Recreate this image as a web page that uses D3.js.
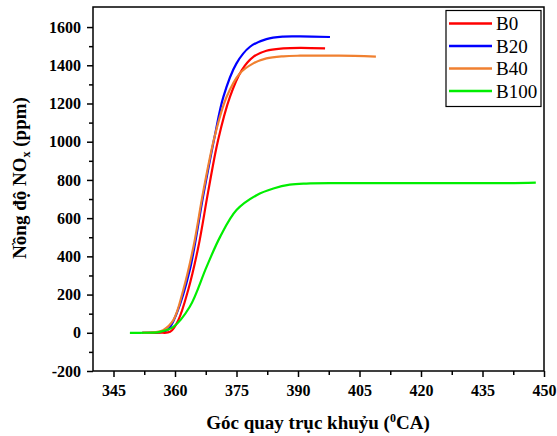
<!DOCTYPE html>
<html><head><meta charset="utf-8">
<script src="https://cdn.jsdelivr.net/npm/d3@7"></script>
<style>body{margin:0;background:#fff}svg{display:block}</style>
</head><body>
<script>
const xTicks = [345, 360, 375, 390, 405, 420, 435, 450];
const yTicks = [-200, 0, 200, 400, 600, 800, 1000, 1200, 1400, 1600];
const seriesNames = ["B0", "B20", "B40", "B100"];
const seriesColors = ["#ff0000", "#0000ff", "#f08030", "#00ee00"];

const b0X = [352, 356, 358.8, 360.8, 363.2, 365.7, 368.1, 370.5, 373.4, 376.3, 379.1, 382.3, 386.4, 390.5, 396.6];
const b0Y = [0, 1, 5, 66, 223, 450, 740, 1008, 1235, 1375, 1444, 1476, 1488, 1491, 1488];

const b20X = [352, 356, 358.2, 360.4, 363.6, 366.9, 369.7, 371.8, 375.0, 378.3, 382.3, 386.4, 390.5, 397.8];
const b20Y = [0, 2, 15, 101, 328, 720, 1030, 1235, 1410, 1497, 1537, 1550, 1551, 1548];

const b40X = [352, 355, 357.1, 359.6, 362.0, 364.5, 366.9, 369.7, 372.6, 375.8, 379.1, 382.3, 386.4, 390.5, 400, 409];
const b40Y = [0, 3, 14, 66, 223, 450, 740, 1030, 1235, 1357, 1410, 1436, 1447, 1450, 1450, 1445];

const b100X = [349, 351.5, 356.3, 359.6, 363.6, 367.7, 371.0, 375.0, 379.9, 384.0, 388.0, 392, 400, 420, 440, 448];
const b100Y = [0, 0, 5, 31, 136, 345, 502, 642, 720, 755, 775, 781, 783, 783, 783, 786];

const W = 557, H = 436;
const svg = d3.select("body").append("svg").attr("width", W).attr("height", H);
const x = d3.scaleLinear().domain([340, 450]).range([93, 544]);
const y = d3.scaleLinear().domain([-200, 1705]).range([371, 7]);

const font = "'Liberation Serif', 'Times New Roman', serif";
const fmt = v => String(v);

const xMinor = d3.range(0, 15).map(i => 345 + 7.5 * i).filter(v => v <= 450 && !xTicks.includes(v));
const yMinor = d3.range(-100, 1700, 200);

const xAxis = svg.append("g").attr("transform", `translate(0,371)`)
  .call(d3.axisBottom(x).tickValues(xTicks).tickFormat(fmt).tickSize(6).tickSizeOuter(0).tickPadding(8));
const xAxisMinor = svg.append("g").attr("transform", `translate(0,371)`)
  .call(d3.axisBottom(x).tickValues(xMinor).tickSize(4).tickSizeOuter(0).tickFormat(""));
const yAxis = svg.append("g").attr("transform", `translate(93,0)`)
  .call(d3.axisLeft(y).tickValues(yTicks).tickFormat(fmt).tickSize(6).tickSizeOuter(0).tickPadding(6));
const yAxisMinor = svg.append("g").attr("transform", `translate(93,0)`)
  .call(d3.axisLeft(y).tickValues(yMinor).tickSize(4).tickSizeOuter(0).tickFormat(""));

[xAxis, xAxisMinor, yAxis, yAxisMinor].forEach(g => {
  g.selectAll("path.domain").remove();
  g.selectAll("line").attr("stroke", "#000").attr("stroke-width", 1.5);
  g.selectAll("text").attr("font-family", font).attr("font-weight", "bold")
    .attr("font-size", 16).attr("fill", "#000");
});

svg.append("rect").attr("x", 93).attr("y", 7).attr("width", 544 - 93).attr("height", 371 - 7)
  .attr("fill", "none").attr("stroke", "#000").attr("stroke-width", 1.5);

const seriesX = [b0X, b20X, b40X, b100X];
const seriesY = [b0Y, b20Y, b40Y, b100Y];
const line = d3.line().x(d => x(d[0])).y(d => y(d[1])).curve(d3.curveCatmullRom.alpha(0.5));
const order = [1, 0, 2, 3];
order.forEach(i => {
  const pts = seriesX[i].map((v, j) => [v, seriesY[i][j]]);
  svg.append("path").attr("d", line(pts)).attr("fill", "none")
    .attr("stroke", seriesColors[i]).attr("stroke-width", 2.2);
});

const lg = svg.append("g");
lg.append("rect").attr("x", 446).attr("y", 10.5).attr("width", 95).attr("height", 96)
  .attr("fill", "#fff").attr("stroke", "#000").attr("stroke-width", 1.2);
seriesNames.forEach((n, i) => {
  const cy = 23.5 + i * 22.5;
  lg.append("line").attr("x1", 449).attr("x2", 492).attr("y1", cy).attr("y2", cy)
    .attr("stroke", seriesColors[i]).attr("stroke-width", 2.5);
  lg.append("text").attr("x", 496).attr("y", cy + 6.5).text(n)
    .attr("font-family", font).attr("font-size", 19).attr("fill", "#000");
});

const xt = svg.append("text").attr("x", 318).attr("y", 429).attr("text-anchor", "middle")
  .attr("font-family", font).attr("font-weight", "bold").attr("font-size", 19);
xt.append("tspan").text("Góc quay trục khuỷu (");
xt.append("tspan").text("0").attr("font-size", 12).attr("dy", -7);
xt.append("tspan").text("CA)").attr("dy", 7);

const yt = svg.append("text").attr("transform", "translate(26,178) rotate(-90)").attr("text-anchor", "middle")
  .attr("font-family", font).attr("font-weight", "bold").attr("font-size", 19);
yt.append("tspan").text("Nồng độ NO");
yt.append("tspan").text("x").attr("font-size", 12).attr("dy", 4);
yt.append("tspan").text(" (ppm)").attr("dy", -4);
</script>
</body></html>
